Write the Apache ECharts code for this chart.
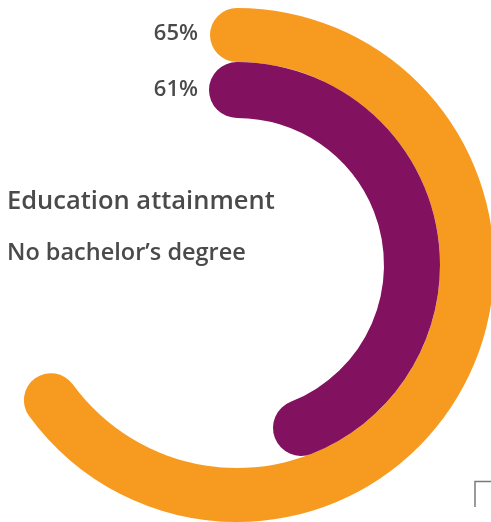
<!DOCTYPE html>
<html>
<head>
<meta charset="utf-8">
<script src="https://cdn.jsdelivr.net/npm/echarts@6/dist/echarts.min.js"></script>
<style>
  html, body { margin: 0; padding: 0; background: #ffffff; }
  #chart { width: 491px; height: 522px; }
</style>
</head>
<body>
<div id="chart"></div>
<script>
// Share of people without a bachelor's degree, two comparison groups
const groups = ['outer', 'inner'];
const shares = [65, 61];
const ringColors = ['#F79B20', '#82115F'];
// Angular scale of each ring (value that would close the full circle)
const ringScaleMax = [100, 138.5];

const titleText = 'Education attainment';
const subtitleText = 'No bachelor\u2019s degree';

const FONT = '"Open Sans", Lato, sans-serif';
const TEXT_COLOR = '#4A4A4A';

const center = [237, 265];
const ringRadius = [[203, 257], [147, 203]];

const chart = echarts.init(document.getElementById('chart'), null, { renderer: 'canvas' });

const polar = groups.map((g, i) => ({ center: center, radius: ringRadius[i] }));
const angleAxis = groups.map((g, i) => ({
  polarIndex: i, type: 'value', min: 0, max: ringScaleMax[i],
  startAngle: 90, clockwise: true, show: false
}));
const radiusAxis = groups.map((g, i) => ({
  polarIndex: i, type: 'category', data: [g], show: false
}));
const series = groups.map((g, i) => ({
  type: 'bar', coordinateSystem: 'polar', polarIndex: i,
  data: [shares[i]], barWidth: '100%', roundCap: true,
  itemStyle: { color: ringColors[i] }, silent: true, animation: false
}));

const labelY = [34, 90];
const graphic = [
  ...shares.map((v, i) => ({
    type: 'text', x: 198, y: labelY[i],
    style: { text: v + '%', font: '600 22px ' + FONT, fill: TEXT_COLOR,
             textAlign: 'right', textVerticalAlign: 'middle' }
  })),
  { type: 'text', x: 7, y: 202,
    style: { text: titleText, font: '600 25.5px ' + FONT, fill: TEXT_COLOR,
             textAlign: 'left', textVerticalAlign: 'middle' } },
  { type: 'text', x: 7, y: 253.5,
    style: { text: subtitleText, font: '600 23.5px ' + FONT, fill: TEXT_COLOR,
             textAlign: 'left', textVerticalAlign: 'middle' } },
  { type: 'polyline', shape: { points: [[475, 507], [475, 481.5], [491, 481.5]] },
    style: { stroke: '#7A7A7A', lineWidth: 1.5, fill: null } }
];

chart.setOption({
  animation: false,
  polar: polar,
  angleAxis: angleAxis,
  radiusAxis: radiusAxis,
  series: series,
  graphic: graphic
});
</script>
</body>
</html>
